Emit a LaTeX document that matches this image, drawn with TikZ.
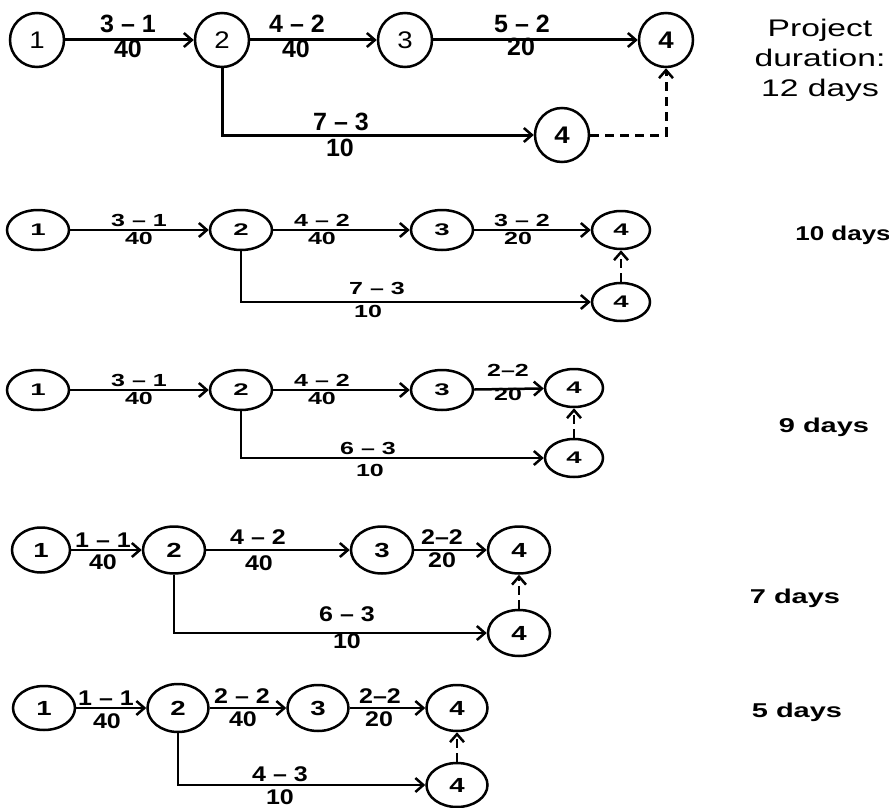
\documentclass[tikz,border=0pt]{standalone}
\usepackage{fontspec}
\setmainfont{Liberation Sans}
\usepackage{graphicx}
\usetikzlibrary{arrows.meta,shapes.geometric}

% vertical squeeze of the texts, set per network
\newcommand{\ys}{1}
\newcommand{\sq}[1]{\scalebox{1}[\ys]{#1}}
\newcommand{\nq}[1]{\scalebox{1.15}[\ys]{#1}}

\tikzset{
  evt/.style={draw, ellipse, line width=2.5pt, inner sep=0pt, minimum width=62pt, minimum height=40pt,
    font=\fontsize{24}{24}\selectfont\bfseries},
  circ/.style={minimum width=54pt, minimum height=54pt, line width=2.5pt},
  act/.style={line width=2.5pt, -{Straight Barb[length=8pt,width=14pt,line width=2.5pt]}},
  dum/.style={act, dash pattern=on 9pt off 5pt},
  lbl/.style={inner sep=0pt, font=\fontsize{25}{25}\selectfont\bfseries},
  dur/.style={inner sep=0pt, font=\fontsize{20}{20}\selectfont\bfseries}
}

\begin{document}
\begin{tikzpicture}[x=1pt, y=-1pt]
  \useasboundingbox (0,0) rectangle (889,808);

  % network 1: 12 days
  \node[evt, circ, font=\fontsize{24}{24}\selectfont] (a1) at (37,40) {\nq{1}};
  \node[evt, circ, font=\fontsize{24}{24}\selectfont] (a2) at (222,40) {\nq{2}};
  \node[evt, circ, font=\fontsize{24}{24}\selectfont] (a3) at (405,40) {\nq{3}};
  \node[evt, circ] (a4) at (666,40) {\nq{4}};
  \node[evt, circ] (a5) at (562,135) {\nq{4}};
  \draw[act, line width=3pt] (a1) -- (a2);
  \draw[act, line width=3pt] (a2) -- (a3);
  \draw[act, line width=3pt] (a3) -- (a4);
  \draw[act, line width=3pt] (a2.south) |- (a5.west);
  \draw[dum, line width=3pt, dash pattern=on 9pt off 6pt] (a5.east) -| (a4.south);
  \node[lbl] (a12t) at (128,24) {3 – 1};
  \node[lbl] (a12b) at (128,49) {40};
  \node[lbl] (a23t) at (297,24) {4 – 2};
  \node[lbl] (a23b) at (296,49) {40};
  \node[lbl] (a34t) at (522,24) {5 – 2};
  \node[lbl] (a34b) at (521,47) {20};
  \node[lbl] (a25t) at (341,122) {7 – 3};
  \node[lbl] (a25b) at (340,148) {10};
  \node[inner sep=0pt, anchor=north, align=center, font=\fontsize{24}{30}\selectfont] (adur) at (820,19)
    {\scalebox{1.4}[1]{Project}\\\scalebox{1.4}[1]{duration:}\\\scalebox{1.4}[1]{12 days}};

  % network 2: 10 days
  \renewcommand{\ys}{0.7}
  \node[evt] (b1) at (38,230) {\nq{1}};
  \node[evt] (b2) at (241,230) {\nq{2}};
  \node[evt] (b3) at (442,230) {\nq{3}};
  \node[evt, minimum width=58pt, minimum height=38pt] (b4) at (621,230) {\nq{4}};
  \node[evt, minimum width=58pt, minimum height=38pt] (b5) at (621,302) {\nq{4}};
  \draw[act] (b1) -- (b2);
  \draw[act] (b2) -- (b3);
  \draw[act] (b3) -- (b4);
  \draw[act] (b2.south) |- (b5.west);
  \draw[dum] (b5) -- (b4);
  \node[lbl] (b12t) at (139,220) {\sq{3 – 1}};
  \node[lbl] (b12b) at (139,238) {\sq{40}};
  \node[lbl] (b23t) at (322,220) {\sq{4 – 2}};
  \node[lbl] (b23b) at (322,238) {\sq{40}};
  \node[lbl] (b34t) at (522,220) {\sq{3 – 2}};
  \node[lbl] (b34b) at (518,238) {\sq{20}};
  \node[lbl] (b25t) at (377,288) {\sq{7 – 3}};
  \node[lbl] (b25b) at (368,311) {\sq{10}};
  \node[dur] (bdur) at (843,235) {\scalebox{1.3}[1]{10 days}};

  % network 3: 9 days
  \node[evt] (c1) at (38,390) {\nq{1}};
  \node[evt] (c2) at (241,390) {\nq{2}};
  \node[evt] (c3) at (442,390) {\nq{3}};
  \node[evt, minimum width=58pt, minimum height=38pt] (c4) at (574,388) {\nq{4}};
  \node[evt, minimum width=58pt, minimum height=38pt] (c5) at (574,458) {\nq{4}};
  \draw[act] (c1) -- (c2);
  \draw[act] (c2) -- (c3);
  \draw[act] (c3) -- (c4);
  \draw[act] (c2.south) |- (c5.west);
  \draw[dum] (c5) -- (c4);
  \node[lbl] (c12t) at (139,380) {\sq{3 – 1}};
  \node[lbl] (c12b) at (139,398) {\sq{40}};
  \node[lbl] (c23t) at (322,380) {\sq{4 – 2}};
  \node[lbl] (c23b) at (322,398) {\sq{40}};
  \node[lbl] (c34t) at (508,370) {\sq{2–2}};
  \node[lbl] (c34b) at (508,394) {\sq{20}};
  \node[lbl] (c25t) at (368,448) {\sq{6 – 3}};
  \node[lbl] (c25b) at (370,470) {\sq{10}};
  \node[dur] (cdur) at (824,427) {\scalebox{1.45}[1]{9 days}};

  % network 4: 7 days
  \renewcommand{\ys}{0.85}
  \node[evt, minimum width=58pt, minimum height=45pt] (d1) at (41,550) {\nq{1}};
  \node[evt, minimum width=62pt, minimum height=47pt] (d2) at (174,550) {\nq{2}};
  \node[evt, minimum width=62pt, minimum height=47pt] (d3) at (382,550) {\nq{3}};
  \node[evt, minimum width=62pt, minimum height=47pt] (d4) at (519,550) {\nq{4}};
  \node[evt, minimum width=62pt, minimum height=46pt] (d5) at (519,633) {\nq{4}};
  \draw[act] (d1) -- (d2);
  \draw[act] (d2) -- (d3);
  \draw[act] (d3) -- (d4);
  \draw[act] (d2.south) |- (d5.west);
  \draw[dum] (d5) -- (d4);
  \node[lbl] (d12t) at (103,540) {\sq{1 – 1}};
  \node[lbl] (d12b) at (103,562) {\sq{40}};
  \node[lbl] (d23t) at (258,537) {\sq{4 – 2}};
  \node[lbl] (d23b) at (259,563) {\sq{40}};
  \node[lbl] (d34t) at (442,537) {\sq{2–2}};
  \node[lbl] (d34b) at (442,560) {\sq{20}};
  \node[lbl] (d25t) at (347,614) {\sq{6 – 3}};
  \node[lbl] (d25b) at (347,641) {\sq{10}};
  \node[dur] (ddur) at (795,598) {\scalebox{1.45}[1]{7 days}};

  % network 5: 5 days
  \node[evt, minimum width=62pt, minimum height=44pt] (e1) at (44,708) {\nq{1}};
  \node[evt, minimum width=61pt, minimum height=48pt] (e2) at (178,708) {\nq{2}};
  \node[evt, minimum width=61pt, minimum height=46pt] (e3) at (318,708) {\nq{3}};
  \node[evt, minimum width=61pt, minimum height=46pt] (e4) at (457,708) {\nq{4}};
  \node[evt, minimum width=61pt, minimum height=44pt] (e5) at (457,785) {\nq{4}};
  \draw[act] (e1) -- (e2);
  \draw[act] (e2) -- (e3);
  \draw[act] (e3) -- (e4);
  \draw[act] (e2.south) |- (e5.west);
  \draw[dum] (e5) -- (e4);
  \node[lbl] (e12t) at (106,698) {\sq{1 – 1}};
  \node[lbl] (e12b) at (107,721) {\sq{40}};
  \node[lbl] (e23t) at (242,696) {\sq{2 – 2}};
  \node[lbl] (e23b) at (243,719) {\sq{40}};
  \node[lbl] (e34t) at (380,696) {\sq{2–2}};
  \node[lbl] (e34b) at (379,719) {\sq{20}};
  \node[lbl] (e25t) at (280,774) {\sq{4 – 3}};
  \node[lbl] (e25b) at (280,797) {\sq{10}};
  \node[dur] (edur) at (797,712) {\scalebox{1.45}[1]{5 days}};
\end{tikzpicture}
\end{document}
